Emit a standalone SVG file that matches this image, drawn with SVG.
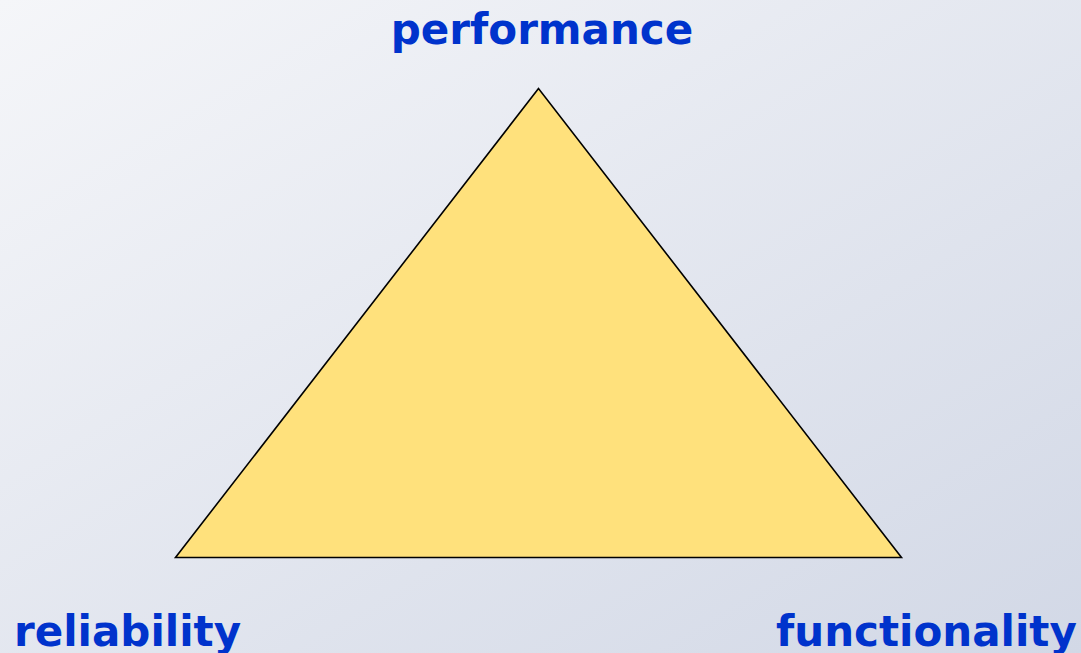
<svg xmlns="http://www.w3.org/2000/svg" width="1081" height="653" viewBox="0 0 1081 653">
<defs>
<linearGradient id="bg" x1="0" y1="0" x2="1" y2="1">
<stop offset="0" stop-color="#f5f6f9"/>
<stop offset="1" stop-color="#d2d8e6"/>
</linearGradient>
<style>
.lbl{font-family:"DejaVu Sans",Verdana,sans-serif;font-weight:bold;font-size:42px;fill:#0033cc}
.tri{fill:#ffe17c;stroke:#000;stroke-width:1.6;stroke-linejoin:miter}
</style>
</defs>
<rect x="0" y="0" width="1081" height="653" fill="url(#bg)"/>
<g id="triangle">
<polygon class="tri" points="538.5,88.5 175.5,557.5 901.5,557.5"/>
</g>
<g id="connectors"/>
<g id="performance"><text class="lbl" x="542" y="44" text-anchor="middle">performance</text></g>
<g id="reliability"><text class="lbl" x="14" y="646">reliability</text></g>
<g id="functionality"><text class="lbl" x="776" y="646">functionality</text></g>
</svg>
